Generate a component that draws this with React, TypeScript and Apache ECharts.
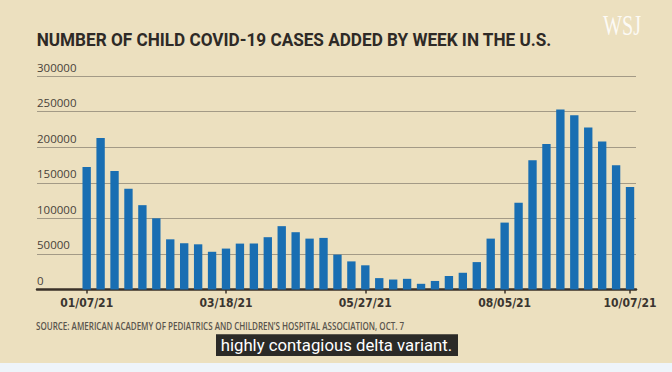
import React, { useEffect, useRef } from "react";
import * as echarts from "echarts";

const TITLE = "NUMBER OF CHILD COVID-19 CASES ADDED BY WEEK IN THE U.S.";
const SOURCE = "SOURCE: AMERICAN ACADEMY OF PEDIATRICS AND CHILDREN\u2019S HOSPITAL ASSOCIATION, OCT. 7";
const CAPTION = "highly contagious delta variant.";
const LOGO = "WSJ";

const weeks = [
  "01/07/21", "01/14/21", "01/21/21", "01/28/21", "02/04/21", "02/11/21", "02/18/21", "02/25/21",
  "03/04/21", "03/11/21", "03/18/21", "03/25/21", "04/01/21", "04/08/21", "04/15/21", "04/22/21",
  "04/29/21", "05/06/21", "05/13/21", "05/20/21", "05/27/21", "06/03/21", "06/10/21", "06/17/21",
  "06/24/21", "07/01/21", "07/08/21", "07/15/21", "07/22/21", "07/29/21", "08/05/21", "08/12/21",
  "08/19/21", "08/26/21", "09/02/21", "09/09/21", "09/16/21", "09/23/21", "09/30/21", "10/07/21",
];

const cases = [
  172000, 213000, 166500, 141500, 118500, 100000, 70500, 65000,
  63500, 53000, 57500, 64500, 64500, 73500, 89000, 80500,
  71500, 72500, 49000, 39500, 34000, 16000, 14000, 15000,
  8000, 12000, 19000, 23500, 38500, 71500, 94000, 122000,
  181500, 204500, 253000, 245000, 227500, 208000, 174500, 144000,
];

const labeledWeeks = ["01/07/21", "03/18/21", "05/27/21", "08/05/21", "10/07/21"];
const yTicks = [0, 50000, 100000, 150000, 200000, 250000, 300000];

function fit(text: string, font: string, target: number): number {
  const c = document.createElement("canvas").getContext("2d");
  if (!c) return 1;
  c.font = font;
  const w = c.measureText(text).width;
  return w > 0 ? target / w : 1;
}

export default function App() {
  const ref = useRef<HTMLDivElement>(null);
  useEffect(() => {
    if (!ref.current) return;
    const chart = echarts.init(ref.current, null, { renderer: "svg" });
    const titleFont = "bold 19px Roboto";
    const srcFont = "600 10.5px 'Open Sans'";
    const capFont = "16px Roboto";
    const logoFont = "29px 'Liberation Serif'";
    const isLabeled = (i: number) => labeledWeeks.includes(weeks[i]);
    chart.setOption({
      animation: false,
      backgroundColor: "#ece0bf",
      grid: [
        { left: 37, right: 36, top: 76, bottom: 82.5 },
        { left: 79.7, right: 35, top: 76, bottom: 82.5 },
      ],
      xAxis: [
        {
          gridIndex: 0, type: "value", min: 0, max: 1,
          axisLabel: { show: false }, axisTick: { show: false }, splitLine: { show: false },
          axisLine: { show: true, lineStyle: { color: "#3a3128", width: 2.5 } },
        },
        {
          gridIndex: 1, type: "category", data: weeks,
          axisLine: { show: false },
          axisTick: { show: true, alignWithLabel: true, interval: (i: number) => isLabeled(i), length: 4, lineStyle: { color: "#3a3128", width: 1.5 } },
          axisLabel: {
            interval: (i: number) => isLabeled(i), margin: 7, fontSize: 12, fontWeight: "bold",
            fontFamily: "'Liberation Sans Narrow', 'DejaVu Sans Condensed', Roboto, sans-serif", color: "#3a352f",
          },
        },
      ],
      yAxis: [
        {
          gridIndex: 0, type: "value", min: yTicks[0], max: yTicks[yTicks.length - 1], interval: yTicks[1] - yTicks[0],
          axisLine: { show: false }, axisTick: { show: false },
          splitLine: { show: true, lineStyle: { color: "#a39a86", width: 1 } },
          axisLabel: {
            inside: true, margin: 0, align: "left", verticalAlign: "bottom", padding: [0, 0, 3, 0],
            fontSize: 11.5, fontFamily: "'Open Sans', sans-serif", color: "#48423a",
            formatter: (v: number) => String(v),
          },
        },
        { gridIndex: 1, type: "value", min: yTicks[0], max: yTicks[yTicks.length - 1], show: false },
      ],
      series: [
        {
          type: "bar", xAxisIndex: 1, yAxisIndex: 1, data: cases, barWidth: "60%",
          itemStyle: { color: "#196eb2" },
        },
      ],
      graphic: [
        {
          type: "text", x: 36.7, y: 39.6, scaleX: fit(TITLE, titleFont, 515),
          style: { text: TITLE, font: titleFont, fill: "#2e2a26", align: "left", verticalAlign: "middle" },
        },
        {
          type: "text", x: 603, y: 25, scaleX: fit(LOGO, logoFont, 38),
          style: { text: LOGO, font: logoFont, fill: "rgba(255,255,255,0.85)", align: "left", verticalAlign: "middle" },
        },
        {
          type: "text", x: 36, y: 325.6, scaleX: fit(SOURCE, srcFont, 369),
          style: { text: SOURCE, font: srcFont, fill: "#5a554d", align: "left", verticalAlign: "middle" },
        },
        { type: "rect", shape: { x: 216, y: 334.3, width: 242, height: 21.7 }, style: { fill: "#2b2a27" } },
        {
          type: "text", x: 220.7, y: 345.2, scaleX: fit(CAPTION, capFont, 231.6),
          style: { text: CAPTION, font: capFont, fill: "#ffffff", align: "left", verticalAlign: "middle" },
        },
        { type: "rect", shape: { x: 0, y: 363, width: 672, height: 9 }, style: { fill: "#eef4fa" } },
      ],
    });
    return () => chart.dispose();
  }, []);
  return <div ref={ref} style={{ position: "fixed", left: 0, top: 0, width: 672, height: 372 }} />;
}
